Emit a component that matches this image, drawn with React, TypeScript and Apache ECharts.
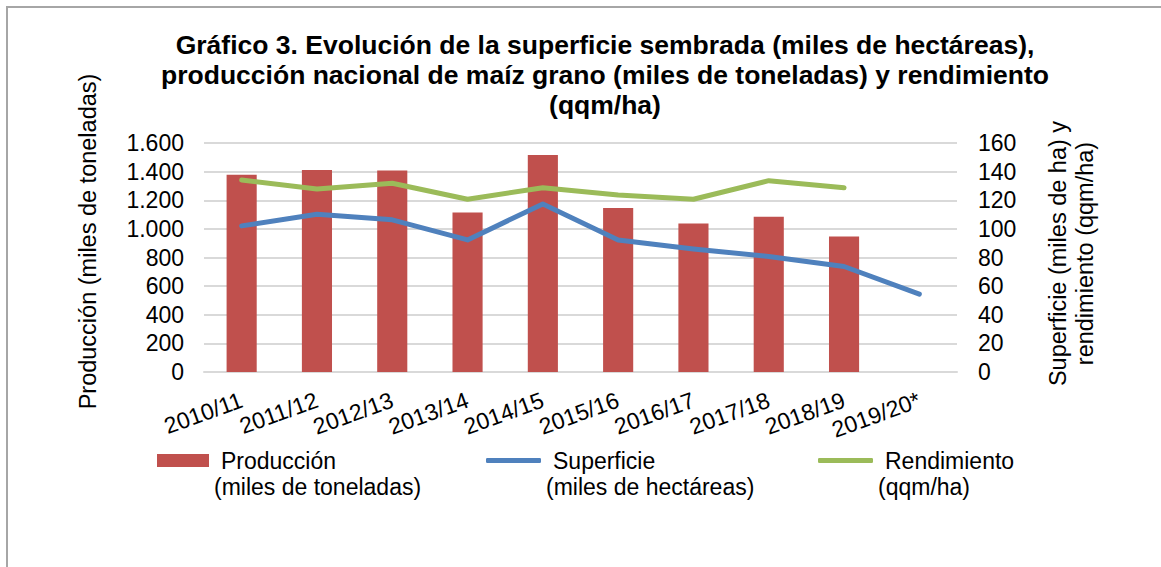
import { useEffect, useRef } from "react";
import * as echarts from "echarts";

const categories = ["2010/11", "2011/12", "2012/13", "2013/14", "2014/15", "2015/16", "2016/17", "2017/18", "2018/19", "2019/20*"];
const produccion = [1378, 1412, 1407, 1114, 1516, 1146, 1037, 1084, 946, null];
const superficie = [102.1, 110.2, 106.3, 92.3, 117.4, 92.3, 86.0, 80.7, 73.7, 54.4];
const rendimiento = [134.2, 127.9, 131.9, 120.7, 128.8, 123.7, 120.7, 133.7, 128.8, null];
const leftTickLabels = ["0", "200", "400", "600", "800", "1.000", "1.200", "1.400", "1.600"];
const rightTickLabels = ["0", "20", "40", "60", "80", "100", "120", "140", "160"];
const seriesNames = ["Producción (miles de toneladas)", "Superficie (miles de hectáreas)", "Rendimiento (qqm/ha)"];
const legendLines = [
  ["Producción", "(miles de toneladas)"],
  ["Superficie", "(miles de hectáreas)"],
  ["Rendimiento", "(qqm/ha)"],
];
const titleText =
  "Gráfico 3. Evolución de la superficie sembrada (miles de hectáreas),\nproducción nacional de maíz grano (miles de toneladas) y rendimiento\n(qqm/ha)";
const leftAxisName = "Producción (miles de toneladas)";
const rightAxisName = "Superficie (miles de ha) y\nrendimiento (qqm/ha)";

const FONT = "'Liberation Sans', Arial, sans-serif";
const colors = ["#c0504d", "#4f81bd", "#9bbb59"];
const legendLeft = [157, 486, 818];

export default function App() {
  const ref = useRef<HTMLDivElement>(null);
  useEffect(() => {
    if (!ref.current) return;
    const chart = echarts.init(ref.current, undefined, { renderer: "svg" });
    const option: any = {
      animation: false,
      backgroundColor: "#ffffff",
      textStyle: { fontFamily: FONT },
      title: {
        text: titleText,
        left: 605,
        textAlign: "center",
        top: 30,
        padding: 0,
        textStyle: { fontSize: 26.5, fontWeight: "bold", lineHeight: 30, color: "#000", fontFamily: FONT },
      },
      graphic: [
        {
          type: "rect",
          silent: true,
          z: -10,
          shape: { x: 7, y: 7, width: 1400, height: 1000 },
          style: { fill: "none", stroke: "#a6a6a6", lineWidth: 2 },
        },
      ],
      legend: legendLines.map((lines, i) => ({
        data: [{ name: seriesNames[i], icon: i === 0 ? "rect" : "roundRect" }],
        left: legendLeft[i],
        top: 449,
        padding: 0,
        itemWidth: i === 0 ? 52 : 55,
        itemHeight: i === 0 ? 13 : 5,
        selectedMode: false,
        formatter: () => `{a|${lines[0]}}\n{b|${lines[1]}}`,
        textStyle: {
          color: "#000",
          fontSize: 23,
          fontFamily: FONT,
          padding: [26, 0, 0, 0],
          rich: {
            a: { fontSize: 23, lineHeight: 26, fontFamily: FONT, color: "#000", padding: [0, 0, 0, 7] },
            b: { fontSize: 23, lineHeight: 26, fontFamily: FONT, color: "#000" },
          },
        },
      })),
      grid: { left: 204, right: 204, top: 143, bottom: 195, containLabel: false, outerBoundsMode: "none" },
      xAxis: {
        type: "category",
        data: categories,
        axisTick: { show: false },
        axisLine: { lineStyle: { color: "#d9d9d9", width: 2 } },
        axisLabel: { interval: 0, rotate: 20, margin: 27, fontSize: 23, color: "#000", fontFamily: FONT },
      },
      yAxis: [
        {
          type: "value",
          min: 0,
          max: 1600,
          interval: 200,
          axisLine: { show: false },
          axisTick: { show: false },
          splitLine: { lineStyle: { color: "#d9d9d9", width: 2 } },
          axisLabel: {
            fontSize: 23,
            color: "#000",
            margin: 20,
            fontFamily: FONT,
            formatter: (v: number) => leftTickLabels[Math.round(v / 200)],
          },
          name: leftAxisName,
          nameLocation: "middle",
          nameGap: 104,
          nameTextStyle: { fontSize: 23.5, color: "#000", fontFamily: FONT, padding: [0, 0, 0, 32] },
        },
        {
          type: "value",
          position: "right",
          min: 0,
          max: 160,
          interval: 20,
          axisLine: { show: false },
          axisTick: { show: false },
          splitLine: { show: false },
          axisLabel: {
            fontSize: 23,
            color: "#000",
            margin: 21,
            fontFamily: FONT,
            formatter: (v: number) => rightTickLabels[Math.round(v / 20)],
          },
          name: rightAxisName,
          nameLocation: "middle",
          nameGap: 87,
          nameTextStyle: { fontSize: 23.5, lineHeight: 27, color: "#000", fontFamily: FONT, align: "center", padding: [0, 0, 0, 8] },
        },
      ],
      series: [
        {
          name: seriesNames[0],
          type: "bar",
          data: produccion,
          barWidth: "40%",
          itemStyle: { color: colors[0] },
        },
        {
          name: seriesNames[1],
          type: "line",
          yAxisIndex: 1,
          data: superficie,
          symbol: "none",
          lineStyle: { color: colors[1], width: 5, cap: "round", join: "round" },
          itemStyle: { color: colors[1] },
        },
        {
          name: seriesNames[2],
          type: "line",
          yAxisIndex: 1,
          data: rendimiento,
          symbol: "none",
          lineStyle: { color: colors[2], width: 5, cap: "round", join: "round" },
          itemStyle: { color: colors[2] },
        },
      ],
    };
    chart.setOption(option);
    return () => chart.dispose();
  }, []);
  return (
    <div
      ref={ref}
      style={{ position: "fixed", left: 0, top: 0, width: 1161, height: 567, background: "#fff" }}
    />
  );
}
